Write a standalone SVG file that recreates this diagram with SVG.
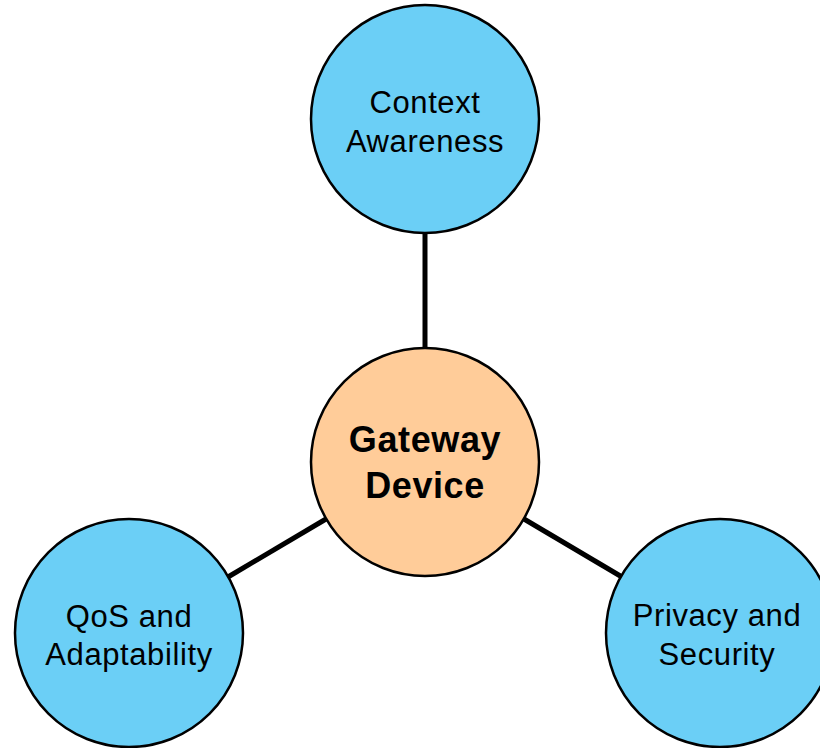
<svg xmlns="http://www.w3.org/2000/svg" width="820" height="748" viewBox="0 0 820 748">
<style>
.blue{fill:#6bcff6;stroke:#000;stroke-width:2.5}
.core{fill:#ffcc99;stroke:#000;stroke-width:2.5}
.lbl{font-family:"Liberation Sans",Arial,sans-serif;font-size:31px;letter-spacing:0.6px;fill:#000;text-anchor:middle}
.bold{font-family:"Liberation Sans",Arial,sans-serif;font-size:36px;letter-spacing:0.6px;font-weight:bold;fill:#000;text-anchor:middle}
.conn{stroke:#000;stroke-width:5;fill:none}
</style>
<rect width="820" height="748" fill="#fff"/>
<g id="connectors">
<line class="conn" x1="425" y1="233" x2="425" y2="347"/>
<line class="conn" x1="228" y1="577" x2="326" y2="519"/>
<line class="conn" x1="524" y1="519" x2="622" y2="577"/>
</g>
<g id="context">
<circle class="blue" cx="425" cy="119" r="114"/>
<text class="lbl" x="425" y="113">Context</text>
<text class="lbl" x="425" y="152">Awareness</text>
</g>
<g id="gateway">
<circle class="core" cx="425" cy="462" r="114"/>
<text class="bold" x="425" y="452">Gateway</text>
<text class="bold" x="425" y="498">Device</text>
</g>
<g id="qos">
<circle class="blue" cx="129" cy="633" r="114"/>
<text class="lbl" x="129" y="627">QoS and</text>
<text class="lbl" x="129" y="665">Adaptability</text>
</g>
<g id="privacy">
<circle class="blue" cx="720" cy="633" r="114"/>
<text class="lbl" x="717" y="626">Privacy and</text>
<text class="lbl" x="717" y="665">Security</text>
</g>
</svg>
